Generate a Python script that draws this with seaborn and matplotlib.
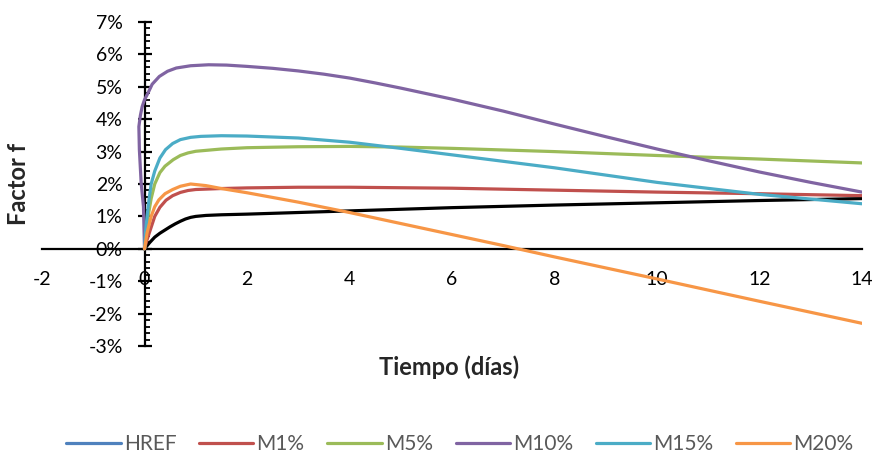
import matplotlib
matplotlib.use("Agg")
import matplotlib.pyplot as plt
from matplotlib.lines import Line2D
from matplotlib.ticker import MultipleLocator, FuncFormatter
import pandas as pd
import seaborn as sns

# Series names as shown in the legend
series_names = ["HREF", "M1%", "M5%", "M10%", "M15%", "M20%"]

# Factor f (%) against time (days) for each mix
t_href = [0, 0.1, 0.2, 0.3, 0.4, 0.5, 0.6, 0.7, 0.8, 0.9, 1.0, 1.2, 1.5, 2, 3, 4, 6, 8, 10, 12, 14]
f_href = [0, 0.19, 0.36, 0.48, 0.58, 0.68, 0.77, 0.85, 0.92, 0.97, 1.0, 1.03, 1.05, 1.07, 1.12, 1.17, 1.27, 1.35, 1.42, 1.49, 1.55]

t_m1 = [0, 0.05, 0.1, 0.2, 0.3, 0.42, 0.55, 0.7, 0.85, 1.0, 1.5, 2, 3, 4, 6, 8, 10, 12, 14]
f_m1 = [0, 0.28, 0.52, 1.0, 1.28, 1.5, 1.64, 1.74, 1.8, 1.83, 1.86, 1.88, 1.9, 1.9, 1.87, 1.81, 1.75, 1.7, 1.64]

t_m5 = [0, 0.03, 0.07, 0.13, 0.2, 0.3, 0.4, 0.56, 0.7, 0.85, 1.0, 1.5, 2, 3, 4, 5, 6, 8, 10, 12, 14]
f_m5 = [0, 0.5, 1.0, 1.55, 2.0, 2.35, 2.55, 2.75, 2.88, 2.96, 3.01, 3.08, 3.12, 3.15, 3.16, 3.14, 3.1, 3.0, 2.88, 2.77, 2.65]

t_m10 = [0, -0.02, -0.065, -0.1, -0.11, -0.08, -0.045, 0.0, 0.066, 0.15, 0.29, 0.45, 0.62, 0.9, 1.25, 1.6, 2, 2.5, 3, 3.5, 4, 4.5, 5, 6, 7, 8, 9, 10, 11, 12, 13, 14]
f_m10 = [0, 1.3, 2.03, 3.06, 3.77, 4.12, 4.39, 4.6, 4.8, 5.08, 5.32, 5.48, 5.58, 5.65, 5.68, 5.67, 5.63, 5.57, 5.49, 5.39, 5.27, 5.12, 4.96, 4.62, 4.25, 3.85, 3.46, 3.08, 2.72, 2.37, 2.05, 1.75]

t_m15 = [0, 0.02, 0.05, 0.09, 0.13, 0.2, 0.3, 0.41, 0.55, 0.7, 0.9, 1.1, 1.5, 2, 3, 4, 5, 6, 8, 10, 12, 14]
f_m15 = [0, 0.5, 1.0, 1.55, 2.0, 2.4, 2.8, 3.06, 3.25, 3.37, 3.44, 3.47, 3.49, 3.48, 3.42, 3.29, 3.1, 2.9, 2.5, 2.05, 1.68, 1.39]

t_m20 = [0, 0.05, 0.13, 0.2, 0.28, 0.4, 0.55, 0.7, 0.9, 1.2, 1.5, 2, 3, 4, 5, 6, 7, 8, 10, 12, 14]
f_m20 = [0, 0.49, 1.0, 1.3, 1.51, 1.7, 1.83, 1.93, 2.0, 1.95, 1.86, 1.73, 1.44, 1.12, 0.78, 0.44, 0.1, -0.25, -0.93, -1.62, -2.3]

x_ticks = [-2, 0, 2, 4, 6, 8, 10, 12, 14]
y_ticks = [-3, -2, -1, 0, 1, 2, 3, 4, 5, 6, 7]

line_colors = ["#000000", "#C0504D", "#9BBB59", "#8064A2", "#4BACC6", "#F79646"]
legend_colors = ["#4F81BD", "#C0504D", "#9BBB59", "#8064A2", "#4BACC6", "#F79646"]

series_t = [t_href, t_m1, t_m5, t_m10, t_m15, t_m20]
series_f = [f_href, f_m1, f_m5, f_m10, f_m15, f_m20]
df = pd.concat(
    [pd.DataFrame({"t": t, "f": f, "serie": name})
     for name, t, f in zip(series_names, series_t, series_f)],
    ignore_index=True,
)

sns.set_style("white")
plt.rcParams["font.family"] = ["Lato", "DejaVu Sans"]
plt.rcParams["axes.unicode_minus"] = False

W, H = 875, 454
fig = plt.figure(figsize=(W / 100, H / 100), dpi=100)
ax = fig.add_axes([42 / W, 1 - 346 / H, 820 / W, 324 / H])

sns.lineplot(data=df, x="t", y="f", hue="serie", hue_order=series_names,
             palette=line_colors, sort=False, estimator=None, legend=False,
             linewidth=2.3, ax=ax)
for ln in ax.get_lines():
    ln.set_solid_joinstyle("round")
    ln.set_solid_capstyle("round")

ax.set_xlim(-2, 14)
ax.set_ylim(-3, 7)
ax.set_xticks(x_ticks)
ax.set_yticks(y_ticks)
ax.yaxis.set_minor_locator(MultipleLocator(0.2))
ax.yaxis.set_major_formatter(FuncFormatter(lambda v, p: f"{v:.0f}%"))
ax.xaxis.set_major_formatter(FuncFormatter(lambda v, p: f"{v:.0f}"))

# Axes cross at the origin
for s in ["top", "right"]:
    ax.spines[s].set_visible(False)
ax.spines["left"].set_position(("data", 0))
ax.spines["bottom"].set_position(("data", 0))
for s in ["left", "bottom"]:
    ax.spines[s].set_color("black")
    ax.spines[s].set_linewidth(1.6)
    ax.spines[s].set_zorder(1)

ax.tick_params(axis="y", which="major", left=True, direction="inout",
               length=9.5, width=1.6, pad=11, labelsize=14, colors="black")
ax.tick_params(axis="y", which="minor", left=True, direction="in",
               length=3.8, width=1.3, colors="black")
ax.tick_params(axis="x", which="both", bottom=False, length=0, pad=16,
               labelsize=14, labelcolor="black")

ax.set_xlabel("Tiempo (días)", fontsize=17, fontweight="bold")
ax.xaxis.set_label_coords((449 - 42) / 820, (346 - 367) / 324)
ax.xaxis.label.set_va("center")
ax.set_ylabel("Factor f", fontsize=17, fontweight="bold")
ax.yaxis.set_label_coords((19 - 42) / 820, 0.5)
ax.yaxis.label.set_va("center")

handles = [Line2D([], [], color=c, lw=2.3) for c in legend_colors]
fig.legend(handles, series_names, loc="center", bbox_to_anchor=(460 / W, 1 - 444 / H),
           ncol=6, frameon=False, fontsize=15, handlelength=2.6, handletextpad=0.15,
           columnspacing=1.1, labelcolor="#595959")

fig.savefig("out.png", dpi=100)
